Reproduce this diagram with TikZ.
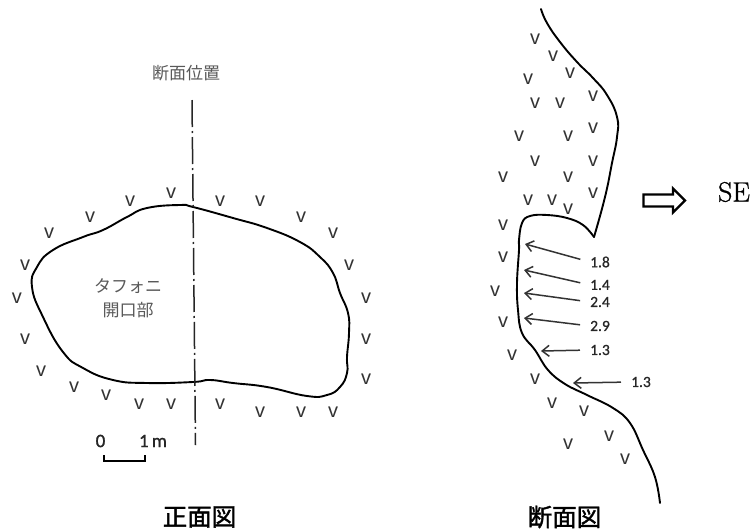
\documentclass[tikz,border=0pt]{standalone}
\usepackage{fontspec}
\setmainfont{Liberation Serif}
\newfontfamily\jpfont{Noto Sans CJK JP}
\newfontfamily\jpheavy[FakeBold=1.5]{Noto Sans CJK JP}
\newfontfamily\numfont[FakeBold=0.8]{Carlito}
\newfontfamily\scalefont[FakeBold=1.2]{Carlito}
\newfontfamily\vfont{Liberation Sans}
\newfontfamily\sefont[FakeBold=0.9]{Latin Modern Roman}
\usetikzlibrary{arrows.meta}
\tikzset{
  outline/.style={line width=1.9pt,black,line cap=round,line join=round},
  vmark/.style={inner sep=0pt,font=\vfont\fontsize{20}{20}\selectfont,text=black!80},
  jplabel/.style={inner sep=0pt,font=\jpfont\fontsize{17}{24}\selectfont,text=black!65,align=center},
  jptitle/.style={inner sep=0pt,font=\jpheavy\fontsize{24.5}{26}\selectfont,text=black},
  depth/.style={inner sep=0pt,font=\numfont\fontsize{15.5}{16}\selectfont,text=black!85},
  scalelabel/.style={inner sep=0pt,font=\scalefont\fontsize{19}{19}\selectfont,text=black!85},
  deptharrow/.style={line width=1.5pt,black!80,-{Straight Barb[length=7pt,width=11pt,line width=1.5pt]},shorten <=10pt},
  axisline/.style={line width=1.5pt,black!85,dash pattern=on 27pt off 4pt on 2pt off 4pt},
}
\begin{document}
\begin{tikzpicture}[x=1pt,y=-1pt]
\useasboundingbox[fill=white] (0,0) rectangle (755,531);

% front view outline
\draw[outline] plot[smooth cycle,tension=0.8] coordinates {
 (32,287) (37,267) (53,250) (83,237) (103,230) (127,217) (147,208) (180,205) (193,207)
 (233,218) (267,228) (300,242) (320,257) (333,273) (340,293) (348,313) (349,333)
 (347,357) (347,373) (340,387) (327,395) (307,396) (267,387) (233,383) (210,380)
 (193,382) (147,383) (113,380) (83,368) (63,352) (43,317)};

% section line
\coordinate (axtop) at (192,100);
\coordinate (axbot) at (195.5,445);
\draw[axisline] (axtop) -- (axbot);
\node[jplabel] (axlabel) at (186,73) {断面位置};
\node[jplabel] (mouth) at (128,298) {タフォニ\\開口部};

% front view rock marks
\foreach \x/\y in {171/193,130/201,90/217,49/233,25/265,220/201,260/201,301/217,333/233,349/265,
 17/298,25/339,41/371,74/387,106/395,139/404,171/404,220/404,260/412,301/412,333/412,366/379,366/339,366/298}
 \node[vmark] at (\x,\y) {v};

% scale
\node[scalelabel] (s0) at (100.5,441) {0};
\node[scalelabel] (s1) at (153,441) {1\,m};
\coordinate (sa) at (104,455);
\coordinate (sb) at (145,455);
\draw[line width=2pt,black] (sa) -- ++(0,6) -- ([yshift=-6pt]sb) -- (sb);

% section outline
\draw[outline] plot[smooth,tension=0.8] coordinates {
 (541,9) (547,23) (560,42) (577,62) (593,78) (607,95) (617,117) (617,137) (612,163) (605,197) (594,237)};
\draw[outline] plot[smooth,tension=0.7] coordinates {
 (594,237) (583,225) (567,218) (547,215) (530,216) (522,223) (519,240) (519,250) (517,283) (518,310)
 (522,333) (535,350) (548,370) (565,384) (587,395) (613,408) (630,423) (643,450) (655,477) (660,503)};

% section rock marks
\foreach \x/\y in {535/39,553/56,570/73,528/79,535/103,560/103,593/96,593/128,519/136,568/136,535/161,593/161,
 503/177,568/177,528/200,552/200,568/209,593/193,503/225,503/257,495/291,503/322,512/355,535/379,552/403,584/411,609/436,568/444,625/459}
 \node[vmark] at (\x,\y) {v};

% depth labels and arrows
\foreach \n/\lx/\ly/\txt/\tx/\ty in {
 a/600/262/1.8/525/244,
 b/600/285/1.4/524/270,
 c/600/302/2.4/524/293,
 d/600/326/2.9/524/318,
 e/600/350/1.3/541/351,
 f/641/382/1.3/573/383}{
 \node[depth] (l\n) at (\lx,\ly) {\txt};
 \coordinate (t\n) at (\tx,\ty);
 \draw[deptharrow] (l\n.west) -- (t\n);
}

% direction arrow
\draw[line width=2.4pt,black,line join=miter] (643.5,194.5) -- (673,194.5) -- (673,188.5) -- (685,200.5) -- (673,212.5) -- (673,206.5) -- (643.5,206.5) -- cycle;
\node[inner sep=0pt,font=\sefont\fontsize{28}{28}\selectfont] (se) at (734,192) {SE};

% titles
\node[jptitle] (t1) at (199.5,517) {正面図};
\node[jptitle] (t2) at (564.5,517) {断面図};
\end{tikzpicture}
\end{document}
